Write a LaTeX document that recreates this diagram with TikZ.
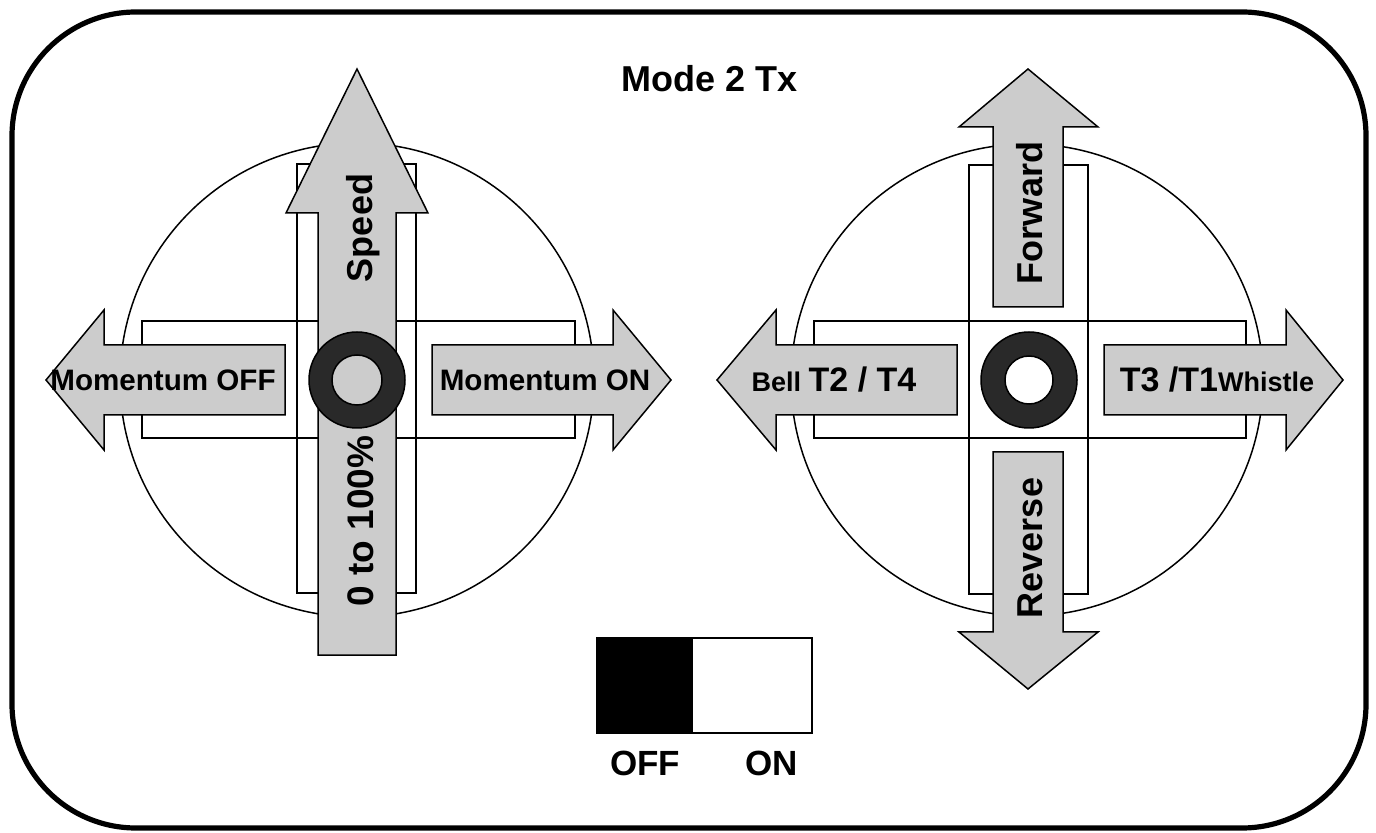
\documentclass[tikz,border=0pt]{standalone}
\usepackage{fontspec}
\setmainfont{Liberation Sans}
\definecolor{padgray}{HTML}{CCCCCC}
\definecolor{knobdark}{HTML}{292929}
\newcommand{\bigtxt}{\fontsize{17}{20}\selectfont}
\newcommand{\smalltxt}{\fontsize{13.5}{16}\selectfont}

\begin{document}
\begin{tikzpicture}[x=0.5pt,y=-0.5pt,
    gate/.style={draw,line width=0.75pt},
    padarrow/.style={draw,fill=padgray,line width=0.75pt,line join=miter},
    knob/.style={draw,fill=knobdark,line width=0.75pt,even odd rule},
    lbl/.style={anchor=base,inner sep=0pt,font=\bfseries}]
    \useasboundingbox (0,0) rectangle (1376,833);
    \draw[line width=2.6pt,rounded corners=62pt] (12,12) rectangle (1366,828);

    \node[lbl,font=\bfseries\fontsize{18}{21}\selectfont] (title) at (710,92) {Mode 2 Tx};

    % left stick
    \draw[line width=0.75pt] (357,380) circle[radius=237];
    \draw[gate] (297,164) rectangle (416,593);
    \draw[gate] (142,321) rectangle (575,438);

    \filldraw[padarrow] (285,345) -- (104,345) -- (104,310) -- (46,380) --
    (104,450) -- (104,415) -- (285,415) -- cycle;
    \filldraw[padarrow] (432,345) -- (613,345) -- (613,310) -- (671,380) --
    (613,450) -- (613,415) -- (432,415) -- cycle;
    \filldraw[padarrow] (318,655) -- (318,213) -- (286,213) -- (357,69) --
    (428,213) -- (396,213) -- (396,655) -- cycle;
    \filldraw[knob] (357,380) circle[radius=48] (357,380) circle[radius=25];

    \node[lbl,font=\bfseries\fontsize{14.8}{17}\selectfont] (momoff) at (163,391) {Momentum OFF};
    \node[lbl,font=\bfseries\fontsize{14.8}{17}\selectfont] (momon) at (545,391) {Momentum ON};
    \node[lbl,rotate=90,font=\bfseries\fontsize{18}{21}\selectfont] (speed) at (372,228) {Speed};
    \node[lbl,rotate=90,font=\bfseries\fontsize{18.5}{21}\selectfont] (range) at (373,521) {0 to 100\%};

    % right stick
    \draw[line width=0.75pt] (1027,380) circle[radius=236];
    \draw[gate] (969,165) rectangle (1088,594);
    \draw[gate] (814,321) rectangle (1246,438);

    \filldraw[padarrow] (993,307) -- (993,127) -- (959,127) -- (1028,69) --
    (1098,127) -- (1063,127) -- (1063,307) -- cycle;
    \filldraw[padarrow] (993,452) -- (993,632) -- (959,632) -- (1028,689) --
    (1098,632) -- (1063,632) -- (1063,452) -- cycle;
    \filldraw[padarrow] (957,345) -- (776,345) -- (776,310) -- (717,380) --
    (776,450) -- (776,415) -- (957,415) -- cycle;
    \filldraw[padarrow] (1104,345) -- (1286,345) -- (1286,310) -- (1343,380) --
    (1286,450) -- (1286,415) -- (1104,415) -- cycle;
    \filldraw[knob,fill=knobdark] (1029,380) circle[radius=48] (1029,380) circle[radius=24];

    \node[lbl,rotate=90,font=\bfseries\fontsize{18}{21}\selectfont] (fwd) at (1042,213) {Forward};
    \node[lbl,rotate=90,font=\bfseries\fontsize{18}{21}\selectfont] (rev) at (1042,548) {Reverse};
    \node[lbl] (bell) at (834,392) {\smalltxt Bell \bigtxt T2 / T4};
    \node[lbl] (whistle) at (1217,392) {\bigtxt T3 /T1\smalltxt Whistle};

    % switch
    \fill[black] (597,638) rectangle (693,733);
    \draw[line width=0.75pt] (597,638) rectangle (812,733);
    \node[lbl,font=\bfseries\fontsize{17.5}{20}\selectfont] (offlbl) at (645,775) {OFF};
    \node[lbl,font=\bfseries\fontsize{17.5}{20}\selectfont] (onlbl) at (772,775) {ON};
\end{tikzpicture}
\end{document}
